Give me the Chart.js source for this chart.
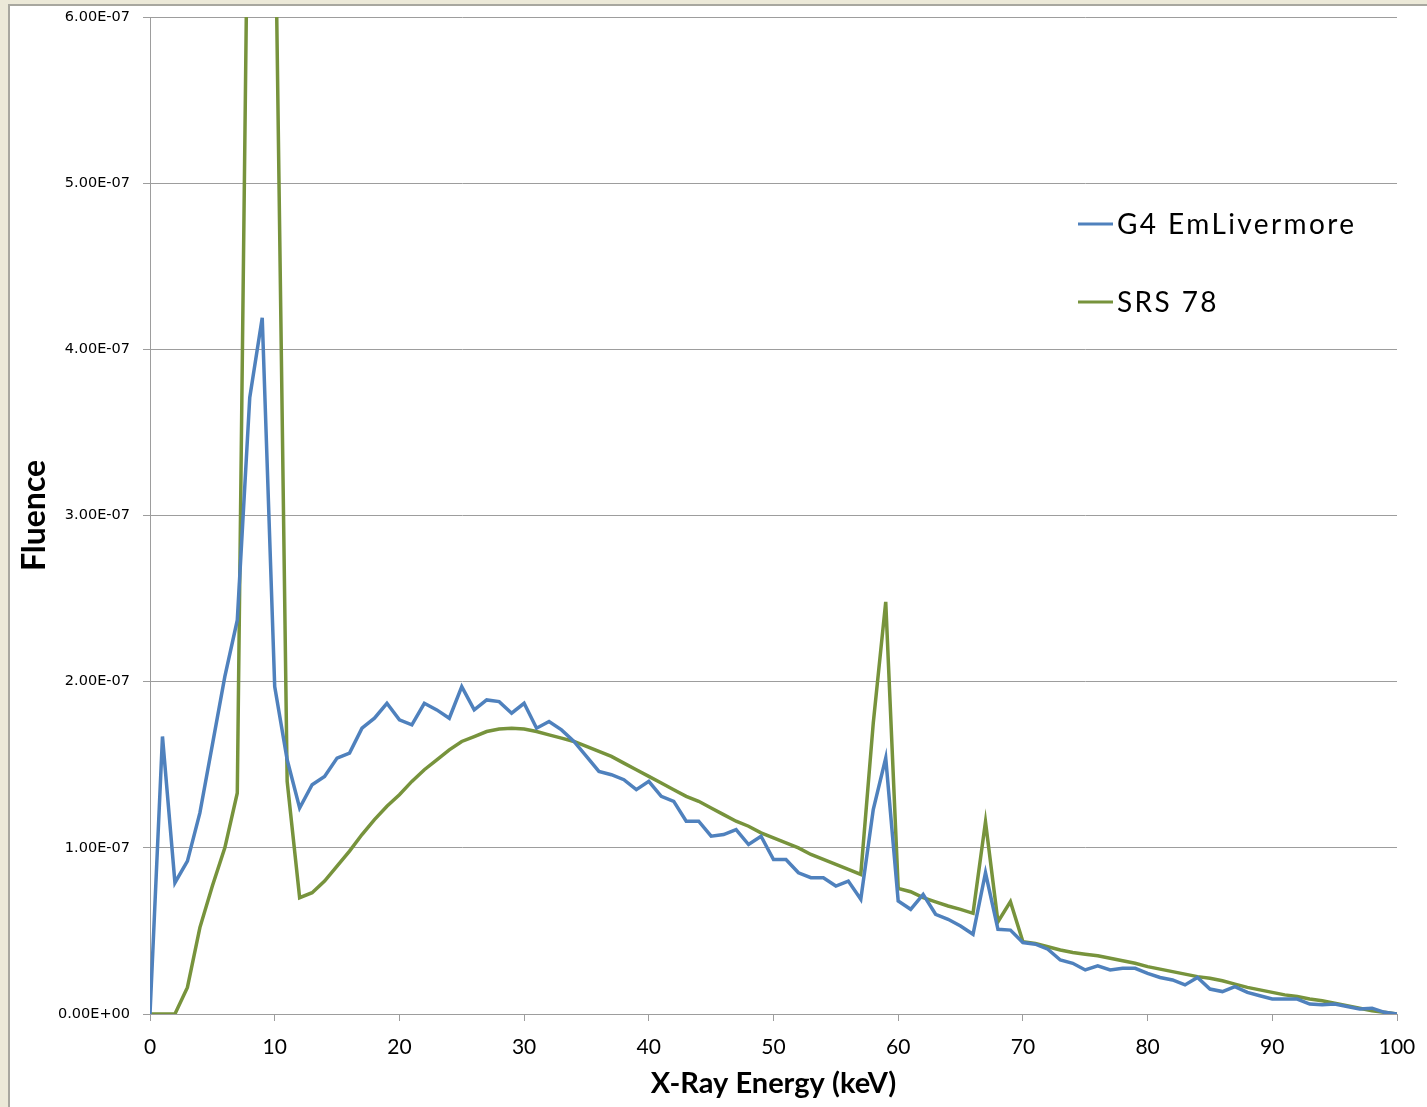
<!DOCTYPE html>
<html>
<head>
<meta charset="utf-8">
<script src="https://cdn.jsdelivr.net/npm/chart.js@4.4.1/dist/chart.umd.min.js"></script>
<style>
html, body { margin: 0; padding: 0; background: #ECE9D8; overflow: hidden; }
#frame {
    position: absolute; left: 8px; top: 4px; width: 1419px; height: 1103px;
    background: #fff; border-left: 2px solid #a8a79f; border-top: 2px solid #a8a79f;
    box-sizing: border-box;
}
#grafico { display: block; }
</style>
</head>
<body>
<div id="frame"><canvas id="grafico" width="1417" height="1101"></canvas></div>
<script>
// energia (keV)
const energie = [0, 1, 2, 3, 4, 5, 6, 7, 8, 9, 10, 11, 12, 13, 14, 15, 16, 17, 18, 19,
    20, 21, 22, 23, 24, 25, 26, 27, 28, 29, 30, 31, 32, 33, 34, 35, 36, 37, 38, 39,
    40, 41, 42, 43, 44, 45, 46, 47, 48, 49, 50, 51, 52, 53, 54, 55, 56, 57, 58, 59,
    60, 61, 62, 63, 64, 65, 66, 67, 68, 69, 70, 71, 72, 73, 74, 75, 76, 77, 78, 79,
    80, 81, 82, 83, 84, 85, 86, 87, 88, 89, 90, 91, 92, 93, 94, 95, 96, 97, 98, 99, 100];

// G4 EmLivermore
const g4Livermore = [0, 1.67e-7, 0.79e-7, 0.92e-7, 1.21e-7, 1.62e-7, 2.03e-7, 2.37e-7, 3.71e-7, 4.19e-7,
    1.97e-7, 1.53e-7, 1.24e-7, 1.38e-7, 1.43e-7, 1.54e-7, 1.57e-7, 1.72e-7, 1.78e-7, 1.87e-7,
    1.77e-7, 1.74e-7, 1.87e-7, 1.83e-7, 1.78e-7, 1.97e-7, 1.83e-7, 1.89e-7, 1.88e-7, 1.81e-7,
    1.87e-7, 1.72e-7, 1.76e-7, 1.71e-7, 1.64e-7, 1.55e-7, 1.46e-7, 1.44e-7, 1.41e-7, 1.35e-7,
    1.40e-7, 1.31e-7, 1.28e-7, 1.16e-7, 1.16e-7, 1.07e-7, 1.08e-7, 1.11e-7, 1.02e-7, 1.07e-7,
    0.93e-7, 0.93e-7, 0.85e-7, 0.82e-7, 0.82e-7, 0.77e-7, 0.80e-7, 0.69e-7, 1.23e-7, 1.54e-7,
    0.68e-7, 0.63e-7, 0.72e-7, 0.60e-7, 0.57e-7, 0.53e-7, 0.48e-7, 0.85e-7, 0.51e-7, 0.505e-7,
    0.43e-7, 0.42e-7, 0.39e-7, 0.325e-7, 0.305e-7, 0.265e-7, 0.29e-7, 0.265e-7, 0.275e-7, 0.275e-7,
    0.245e-7, 0.22e-7, 0.205e-7, 0.175e-7, 0.22e-7, 0.15e-7, 0.135e-7, 0.165e-7, 0.13e-7, 0.11e-7,
    0.09e-7, 0.09e-7, 0.09e-7, 0.06e-7, 0.055e-7, 0.06e-7, 0.045e-7, 0.03e-7, 0.035e-7, 0.01e-7, 0];

// SRS 78
const srs78 = [0, 0, 0, 0.16e-7, 0.52e-7, 0.77e-7, 1.0e-7, 1.33e-7, 7.8e-7, 8.6e-7,
    6.9e-7, 1.40e-7, 0.70e-7, 0.73e-7, 0.80e-7, 0.89e-7, 0.98e-7, 1.08e-7, 1.17e-7, 1.25e-7,
    1.32e-7, 1.40e-7, 1.47e-7, 1.53e-7, 1.59e-7, 1.64e-7, 1.67e-7, 1.70e-7, 1.715e-7, 1.72e-7,
    1.715e-7, 1.70e-7, 1.68e-7, 1.66e-7, 1.64e-7, 1.61e-7, 1.58e-7, 1.55e-7, 1.51e-7, 1.47e-7,
    1.43e-7, 1.39e-7, 1.35e-7, 1.31e-7, 1.28e-7, 1.24e-7, 1.20e-7, 1.16e-7, 1.13e-7, 1.09e-7,
    1.06e-7, 1.03e-7, 1.00e-7, 0.96e-7, 0.93e-7, 0.90e-7, 0.87e-7, 0.84e-7, 1.75e-7, 2.48e-7,
    0.756e-7, 0.736e-7, 0.70e-7, 0.675e-7, 0.65e-7, 0.63e-7, 0.606e-7, 1.157e-7, 0.555e-7, 0.676e-7,
    0.435e-7, 0.425e-7, 0.405e-7, 0.385e-7, 0.37e-7, 0.36e-7, 0.35e-7, 0.335e-7, 0.32e-7, 0.305e-7,
    0.285e-7, 0.27e-7, 0.255e-7, 0.24e-7, 0.225e-7, 0.215e-7, 0.20e-7, 0.18e-7, 0.16e-7, 0.145e-7,
    0.13e-7, 0.115e-7, 0.105e-7, 0.09e-7, 0.08e-7, 0.065e-7, 0.05e-7, 0.035e-7, 0.02e-7, 0.01e-7, 0];

const etichetteY = ['0.00E+00', '1.00E-07', '2.00E-07', '3.00E-07', '4.00E-07', '5.00E-07', '6.00E-07'];

const colGriglia = '#9d9d9d';

// legenda a destra, disegnata dentro l'area del grafico
const legendaLaterale = {
    id: 'legendaLaterale',
    afterDraw: function (chart) {
        const ctx = chart.ctx;
        const a = chart.chartArea;
        ctx.save();
        ctx.font = '28px Lato';
        ctx.letterSpacing = '2.4px';
        ctx.textBaseline = 'middle';
        chart.data.datasets.forEach(function (ds, i) {
            const y = a.top + 207 + i * 78;
            ctx.strokeStyle = ds.borderColor;
            ctx.lineWidth = 3;
            ctx.beginPath();
            ctx.moveTo(a.right - 319, y);
            ctx.lineTo(a.right - 284, y);
            ctx.stroke();
            ctx.fillStyle = '#000';
            ctx.fillText(ds.label, a.right - 280, y + 1);
        });
        ctx.restore();
    }
};

new Chart(document.getElementById('grafico').getContext('2d'), {
    type: 'line',
    data: {
        labels: energie,
        datasets: [
            { label: 'G4 EmLivermore', data: g4Livermore, borderColor: '#4F81BD', borderWidth: 3.5, pointRadius: 0, tension: 0 },
            { label: 'SRS 78', data: srs78, borderColor: '#77933C', borderWidth: 3.5, pointRadius: 0, tension: 0 }
        ]
    },
    options: {
        responsive: false,
        animation: false,
        devicePixelRatio: 1,
        layout: { padding: { top: 11, right: 30, left: 0, bottom: 0 } },
        plugins: {
            legend: { display: false },
            tooltip: { enabled: false }
        },
        scales: {
            x: {
                type: 'linear',
                min: 0,
                max: 100,
                afterFit: function (s) { s.height = 93; s.paddingRight = 0; s.paddingLeft = 0; },
                ticks: { stepSize: 10, color: '#000', padding: 14, maxRotation: 0, font: { family: 'Lato', size: 21 } },
                grid: { drawOnChartArea: false, drawTicks: true, tickLength: 7, color: colGriglia },
                border: { color: colGriglia, width: 1 },
                title: { display: true, text: 'X-Ray Energy (keV)', color: '#000', padding: { top: 0, bottom: 6 }, font: { family: 'Lato', size: 29, weight: 'bold' } }
            },
            y: {
                min: 0,
                max: 6e-7,
                afterFit: function (s) { s.width = 140; s.paddingTop = 0; s.paddingBottom = 0; },
                ticks: {
                    stepSize: 1e-7, color: '#000', padding: 13,
                    font: { family: 'DejaVu Sans', size: 14.5 },
                    callback: function (v, i) { return etichetteY[i]; }
                },
                grid: { color: colGriglia, tickLength: 7, lineWidth: 1 },
                border: { color: colGriglia, width: 1 },
                title: { display: true, text: 'Fluence', color: '#000', padding: { top: 5, bottom: 0 }, font: { family: 'Lato', size: 32, weight: 'bold' } }
            }
        }
    },
    plugins: [legendaLaterale]
});
</script>
</body>
</html>
